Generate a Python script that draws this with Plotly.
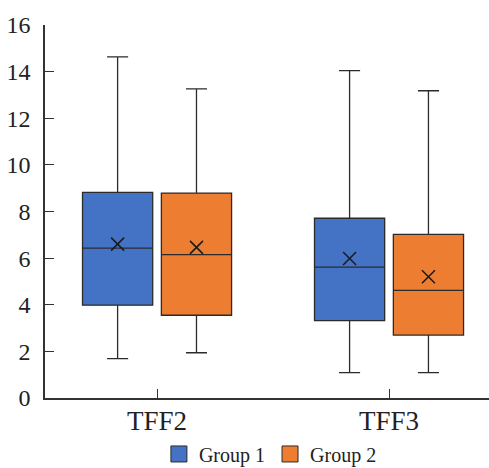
import plotly.graph_objects as go

categories = ["TFF2", "TFF3"]
groups = ["Group 1", "Group 2"]
colors = ["#4472C4", "#ED7D31"]

g1_lower = [1.69, 1.09]
g1_q1 = [3.98, 3.32]
g1_median = [6.43, 5.61]
g1_q3 = [8.82, 7.71]
g1_upper = [14.63, 14.04]
g1_mean = [6.60, 5.98]

g2_lower = [1.94, 1.09]
g2_q1 = [3.55, 2.70]
g2_median = [6.15, 4.62]
g2_q3 = [8.79, 7.02]
g2_upper = [13.26, 13.18]
g2_mean = [6.46, 5.20]

y_ticks = [0, 2, 4, 6, 8, 10, 12, 14, 16]

stats = [
    (g1_lower, g1_q1, g1_median, g1_q3, g1_upper, g1_mean),
    (g2_lower, g2_q1, g2_median, g2_q3, g2_upper, g2_mean),
]

FONT = "Liberation Serif, Times New Roman, serif"
LINE = "#2b2b2b"
BOXGAP = 0.32

fig = go.Figure()
for i, (lo, q1, med, q3, up, mean) in enumerate(stats):
    og = f"g{i+1}"
    fig.add_trace(go.Box(
        x=categories, q1=q1, median=med, q3=q3,
        lowerfence=lo, upperfence=up,
        name=groups[i], fillcolor=colors[i],
        line=dict(color=LINE, width=1.3),
        whiskerwidth=0.3, boxpoints=False,
        offsetgroup=og, showlegend=False, hoverinfo="skip",
    ))
for i, (lo, q1, med, q3, up, mean) in enumerate(stats):
    og = f"g{i+1}"
    fig.add_trace(go.Scatter(
        x=categories, y=mean, mode="markers",
        marker=dict(symbol="x-thin", size=13, line=dict(color="#1a1a1a", width=1.5)),
        offsetgroup=og, showlegend=False, hoverinfo="skip",
    ))
    fig.add_trace(go.Scatter(
        x=[None], y=[None], mode="markers", name=groups[i],
        marker=dict(symbol="square", size=16, color=colors[i],
                    line=dict(color=LINE, width=1)),
        offsetgroup=og, showlegend=True,
    ))

fig.update_layout(
    width=489, height=468,
    margin=dict(l=45, r=0, t=25, b=70, autoexpand=False),
    paper_bgcolor="white", plot_bgcolor="white",
    boxmode="group", boxgap=BOXGAP, boxgroupgap=0.11,
    scattermode="group", scattergap=BOXGAP,
    font=dict(family=FONT, color="#222222"),
    showlegend=True,
    legend=dict(
        orientation="h", xref="container", yref="container",
        x=0.553, xanchor="center", y=0.03, yanchor="middle",
        font=dict(family=FONT, size=20, color="#222222"),
        itemsizing="trace", itemwidth=30, tracegroupgap=0,
    ),
    xaxis=dict(
        type="category", range=[-0.483, 1.431], automargin=False,
        showline=True, linecolor="#333333", linewidth=1.5,
        ticks="inside", ticklen=9, tickcolor="#333333", tickwidth=1.3,
        tickfont=dict(family=FONT, size=27, color="#222222"),
        showgrid=False, zeroline=False, ticklabelstandoff=-2,
    ),
    yaxis=dict(
        range=[0, 16], tickvals=y_ticks, automargin=False,
        showline=True, linecolor="#333333", linewidth=1.5,
        ticks="inside", ticklen=9, tickcolor="#333333", tickwidth=1.3,
        tickfont=dict(family=FONT, size=24, color="#222222"),
        showgrid=False, zeroline=False, ticklabelstandoff=8,
    ),
)

fig.write_html(
    "out.html",
    config={"displayModeBar": False},
    post_script="document.body.style.margin='0';document.body.style.padding='0';",
)
